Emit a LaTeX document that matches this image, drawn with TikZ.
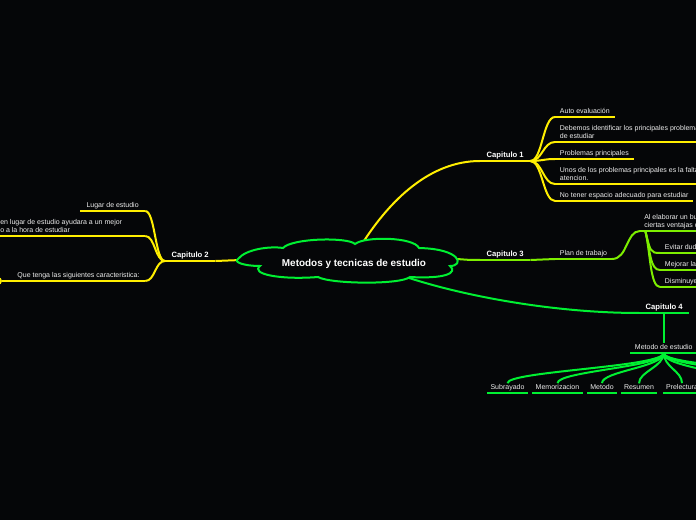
\documentclass[tikz,border=0pt]{standalone}
\usepackage{fontspec}
\setmainfont{Liberation Sans}

\definecolor{bgdark}{RGB}{5,6,8}
\definecolor{mapyellow}{RGB}{255,238,0}
\definecolor{maplime}{RGB}{125,238,0}
\definecolor{mapgreen}{RGB}{0,240,50}
\definecolor{leaftext}{RGB}{238,238,238}

\tikzset{
  leaf/.style={text=leaftext,font=\fontsize{5.25}{6}\selectfont,inner xsep=3.5pt,inner ysep=1pt,text depth=1.2pt,align=left},
  chap/.style={text=white,font=\fontsize{5.75}{7}\selectfont\bfseries,inner xsep=4.8pt,inner ysep=1pt,text depth=1.2pt},
  ybranch/.style={draw=mapyellow,line width=1.5pt},
  lbranch/.style={draw=maplime,line width=1.5pt},
  gbranch/.style={draw=mapgreen,line width=1.5pt},
}

\begin{document}
\begin{tikzpicture}[x=0.75pt,y=-0.75pt]
  \useasboundingbox (0,0) rectangle (696,520);
  \fill[bgdark] (0,0) rectangle (696,520);
  \clip (0,0) rectangle (696,520);

  % points on the cloud
  \coordinate (rtop) at (362,244);
  \coordinate (rleft) at (241,260);
  \coordinate (rright) at (457,259);
  \coordinate (rbot) at (406,277);

  % Capitulo 1
  \node[chap,anchor=south west] (cap1) at (480,161) {Capitulo 1};
  \node[leaf,anchor=south west] (c1a) at (555,117) {Auto evaluación};
  \node[leaf,anchor=south west] (c1b) at (555,142) {Debemos identificar los principales problemas\\de estudiar};
  \node[leaf,anchor=south west] (c1c) at (555,159) {Problemas principales};
  \node[leaf,anchor=south west] (c1d) at (555,184) {Unos de los problemas principales es la falta\\atencion.};
  \node[leaf,anchor=south west] (c1e) at (555,201) {No tener espacio adecuado para estudiar};

  % Capitulo 2
  \node[chap,anchor=south west] (cap2) at (165,261) {Capitulo 2};
  \node[leaf,anchor=south west,minimum width=48.5pt] (c2a) at (80,211) {Lugar de estudio};
  \node[leaf,anchor=south west,inner xsep=3pt] (c2b) at (-4,236) {en lugar de estudio ayudara a un mejor\\o a la hora de estudiar};
  \coordinate (c2bend) at (c2b.south west -| c2a.south east);
  \node[leaf,anchor=south east,inner xsep=4pt] (c2c) at (c2a.south east |- 0,281) {Que tenga las siguientes caracteristica:};
  \node[circle,fill=mapyellow,inner sep=0pt,minimum size=6pt] (c2dot) at (-2,281) {};

  % Capitulo 3
  \node[chap,anchor=south west] (cap3) at (480,260) {Capitulo 3};
  \node[leaf,anchor=south west] (plan) at (555,259) {Plan de trabajo};
  \node[leaf,anchor=south west,inner xsep=3pt] (elab) at (640,231) {Al elaborar un bu\\ciertas ventajas c};
  \node[leaf,anchor=south west] (e1) at (660,253) {Evitar dud};
  \node[leaf,anchor=south west] (e2) at (660,270) {Mejorar la};
  \node[leaf,anchor=south west] (e3) at (660,287) {Disminuye};
  \coordinate (ehub) at ([xshift=4pt]elab.south west);

  % Capitulo 4
  \node[chap,anchor=south west] (cap4) at (639,313) {Capitulo 4};
  \node[leaf,anchor=south west] (met) at (630,353) {Metodo de estudio};
  \node[leaf,anchor=south,inner xsep=2.25pt] (sub) at (507.5,393) {Subrayado};
  \node[leaf,anchor=south,inner xsep=2.25pt] (mem) at (557.5,393) {Memorizacion};
  \node[leaf,anchor=south,inner xsep=2.25pt] (metd) at (602,393) {Metodo};
  \node[leaf,anchor=south,inner xsep=2.25pt] (res) at (639,393) {Resumen};
  \node[leaf,anchor=south,inner xsep=2.25pt] (pre) at (682,393) {Prelectura};
  \coordinate (more1) at (726,381);
  \coordinate (more2) at (772,381);
  \coordinate (more3) at (818,381);

  % yellow branches
  \draw[ybranch] (rtop) .. controls (390,200) and (430,161) .. (cap1.south west);
  \foreach \n in {cap1,c1a,c1b,c1c,c1d,c1e}
    \draw[ybranch] (\n.south west) -- (\n.south east);
  \foreach \n in {c1a,c1b,c1c,c1d,c1e}
    \draw[ybranch] (cap1.south east) .. controls +(12,0) and +(-12,0) .. (\n.south west);
  \draw[ybranch] (rleft) -- (cap2.south east);
  \foreach \n in {cap2,c2a,c2c}
    \draw[ybranch] (\n.south west) -- (\n.south east);
  \draw[ybranch] (c2b.south west) -- (c2bend);
  \foreach \n in {c2a.south east,c2bend,c2c.south east}
    \draw[ybranch] (cap2.south west) .. controls +(-10,0) and +(10,0) .. (\n);
  \draw[ybranch] (c2c.south west) -- (c2dot);

  % lime branches
  \draw[lbranch] (rright) .. controls (470,260) .. (cap3.south west);
  \foreach \n in {cap3,plan,elab,e1,e2,e3}
    \draw[lbranch] (\n.south west) -- (\n.south east);
  \draw[lbranch] (cap3.south east) -- (plan.south west);
  \draw[lbranch] (plan.south east) .. controls +(16,0) and +(-14,0) .. (elab.south west);
  \foreach \n in {e1,e2,e3}
    \draw[lbranch] (ehub) .. controls +(5,20) and +(-10,0) .. (\n.south west);

  % green branches
  \draw[gbranch] (rbot) .. controls (470,298) and (560,313) .. (cap4.south west);
  \foreach \n in {cap4,met,sub,mem,metd,res,pre}
    \draw[gbranch] (\n.south west) -- (\n.south east);
  \draw[gbranch] (met.north |- cap4.south) -- (met.north);
  \foreach \n in {sub,mem,metd,res,pre}
    \draw[gbranch] (met.south) .. controls +(0,14) and +(0,-12) .. (\n.north);
  \foreach \n in {more1,more2,more3}
    \draw[gbranch] (met.south) .. controls +(0,14) and +(0,-12) .. (\n);

  % central cloud
  \draw[fill=bgdark,draw=mapgreen,line width=1.5pt]
    (238,259) .. controls (246,249) and (270,246) .. (283,248)
    .. controls (292,238) and (348,237) .. (355,244)
    .. controls (365,236) and (414,237) .. (419,248)
    .. controls (462,249) and (464,266) .. (450,266)
    .. controls (458,273) and (445,279) .. (410,277)
    .. controls (400,285) and (330,284) .. (318,277)
    .. controls (280,280) and (250,274) .. (260,266)
    .. controls (244,266) and (233,262) .. (238,259) -- cycle;
  \node[text=white,font=\fontsize{7.45}{9}\selectfont\bfseries] (root) at (354,263.5) {Metodos y tecnicas de estudio};
\end{tikzpicture}
\end{document}
